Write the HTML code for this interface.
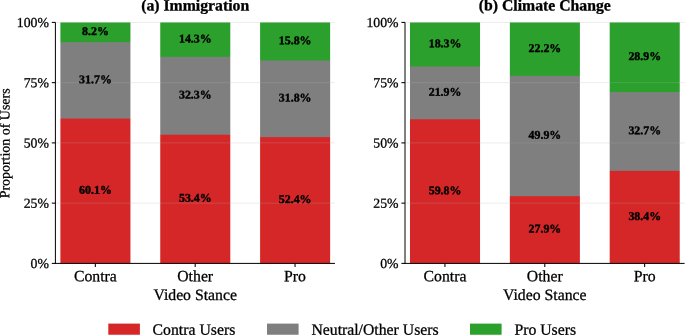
<!DOCTYPE html>
<html><head><meta charset="utf-8"><title>chart</title>
<style>
html,body{margin:0;padding:0;background:#fff;}
body{width:685px;height:335px;overflow:hidden;}
svg{display:block;font-family:"Liberation Serif",serif;text-rendering:geometricPrecision;will-change:transform;}
text{fill:#000;}
.t{font-size:13.78px;stroke:#000;stroke-width:0.27px;}
.x{font-size:15.75px;stroke:#000;stroke-width:0.27px;}
.b{font-size:11.9px;font-weight:bold;stroke:#000;stroke-width:0.4px;}
.ti{font-size:15.75px;font-weight:bold;stroke:#000;stroke-width:0.3px;}
</style></head><body>
<svg width="685" height="335" viewBox="0 0 685 335">
<rect width="685" height="335" fill="#fff"/>
<g>
<linearGradient id="g0" gradientUnits="userSpaceOnUse" x1="0" y1="22.4" x2="0" y2="263.4"><stop offset="0" stop-color="#2ca02c"/><stop offset="7.993%" stop-color="#2ca02c"/><stop offset="8.407%" stop-color="#7f7f7f"/><stop offset="39.693%" stop-color="#7f7f7f"/><stop offset="40.107%" stop-color="#d62728"/><stop offset="1" stop-color="#d62728"/></linearGradient>
<rect x="60.392" y="22.4" width="70.045" height="241" fill="url(#g0)"/>
<linearGradient id="g1" gradientUnits="userSpaceOnUse" x1="0" y1="22.4" x2="0" y2="263.4"><stop offset="0" stop-color="#2ca02c"/><stop offset="14.093%" stop-color="#2ca02c"/><stop offset="14.507%" stop-color="#7f7f7f"/><stop offset="46.393%" stop-color="#7f7f7f"/><stop offset="46.807%" stop-color="#d62728"/><stop offset="1" stop-color="#d62728"/></linearGradient>
<rect x="160.243" y="22.4" width="70.045" height="241" fill="url(#g1)"/>
<linearGradient id="g2" gradientUnits="userSpaceOnUse" x1="0" y1="22.4" x2="0" y2="263.4"><stop offset="0" stop-color="#2ca02c"/><stop offset="15.593%" stop-color="#2ca02c"/><stop offset="16.007%" stop-color="#7f7f7f"/><stop offset="47.393%" stop-color="#7f7f7f"/><stop offset="47.807%" stop-color="#d62728"/><stop offset="1" stop-color="#d62728"/></linearGradient>
<rect x="260.092" y="22.4" width="70.045" height="241" fill="url(#g2)"/>
<line x1="55.4" x2="334.98" y1="203.15" y2="203.15" stroke="#b0b0b0" stroke-opacity="0.3" stroke-width="0.8"/>
<line x1="55.4" x2="334.98" y1="142.9" y2="142.9" stroke="#b0b0b0" stroke-opacity="0.3" stroke-width="0.8"/>
<line x1="55.4" x2="334.98" y1="82.65" y2="82.65" stroke="#b0b0b0" stroke-opacity="0.3" stroke-width="0.8"/>
<line x1="55.4" x2="334.98" y1="22.4" y2="22.4" stroke="#b0b0b0" stroke-opacity="0.3" stroke-width="0.8"/>
<text class="b" x="95.44" y="193.779" text-anchor="middle" transform="rotate(0.03 95.44 193.779)">60.1%</text>
<text class="b" x="95.44" y="83.161" text-anchor="middle" transform="rotate(0.03 95.44 83.161)">31.7%</text>
<text class="b" x="95.44" y="35.081" text-anchor="middle" transform="rotate(0.03 95.44 35.081)">8.2%</text>
<text class="b" x="195.29" y="201.853" text-anchor="middle" transform="rotate(0.03 195.29 201.853)">53.4%</text>
<text class="b" x="195.29" y="98.585" text-anchor="middle" transform="rotate(0.03 195.29 98.585)">32.3%</text>
<text class="b" x="195.29" y="42.432" text-anchor="middle" transform="rotate(0.03 195.29 42.432)">14.3%</text>
<text class="b" x="295.14" y="203.058" text-anchor="middle" transform="rotate(0.03 295.14 203.058)">52.4%</text>
<text class="b" x="295.14" y="101.597" text-anchor="middle" transform="rotate(0.03 295.14 101.597)">31.8%</text>
<text class="b" x="295.14" y="44.239" text-anchor="middle" transform="rotate(0.03 295.14 44.239)">15.8%</text>
<line x1="55.4" x2="55.4" y1="22.4" y2="263.9" stroke="#000" stroke-width="1"/>
<line x1="54.95" x2="334.98" y1="263.4" y2="263.4" stroke="#000" stroke-width="1"/>
<line x1="51.8" x2="55.4" y1="263.4" y2="263.4" stroke="#000" stroke-width="1.05"/>
<text class="t" x="48.9" y="268.05" text-anchor="end" transform="rotate(0.03 48.9 268.05)">0%</text>
<line x1="51.8" x2="55.4" y1="203.15" y2="203.15" stroke="#000" stroke-width="1.05"/>
<text class="t" x="48.9" y="207.8" text-anchor="end" transform="rotate(0.03 48.9 207.8)">25%</text>
<line x1="51.8" x2="55.4" y1="142.9" y2="142.9" stroke="#000" stroke-width="1.05"/>
<text class="t" x="48.9" y="147.55" text-anchor="end" transform="rotate(0.03 48.9 147.55)">50%</text>
<line x1="51.8" x2="55.4" y1="82.65" y2="82.65" stroke="#000" stroke-width="1.05"/>
<text class="t" x="48.9" y="87.3" text-anchor="end" transform="rotate(0.03 48.9 87.3)">75%</text>
<line x1="51.8" x2="55.4" y1="22.4" y2="22.4" stroke="#000" stroke-width="1.05"/>
<text class="t" x="48.9" y="27.05" text-anchor="end" transform="rotate(0.03 48.9 27.05)">100%</text>
<line x1="95.34" x2="95.34" y1="263.4" y2="267.1" stroke="#000" stroke-width="1.05"/>
<text class="x" x="95.34" y="281.15" text-anchor="middle" transform="rotate(0.03 95.34 281.15)">Contra</text>
<line x1="195.19" x2="195.19" y1="263.4" y2="267.1" stroke="#000" stroke-width="1.05"/>
<text class="x" x="195.19" y="281.15" text-anchor="middle" transform="rotate(0.03 195.19 281.15)">Other</text>
<line x1="295.04" x2="295.04" y1="263.4" y2="267.1" stroke="#000" stroke-width="1.05"/>
<text class="x" x="295.04" y="281.15" text-anchor="middle" transform="rotate(0.03 295.04 281.15)">Pro</text>
<text class="x" x="195.19" y="299.9" text-anchor="middle" transform="rotate(0.03 195.19 299.9)">Video Stance</text>
<text class="ti" x="195.19" y="10.4" text-anchor="middle" transform="rotate(0.03 195.19 10.4)">(a) Immigration</text>
<text class="t" style="font-size:13.95px" transform="translate(9.4,143.4) rotate(-89.97)" text-anchor="middle">Proportion of Users</text>
</g>
<g>
<linearGradient id="g3" gradientUnits="userSpaceOnUse" x1="0" y1="22.4" x2="0" y2="263.4"><stop offset="0" stop-color="#2ca02c"/><stop offset="18.093%" stop-color="#2ca02c"/><stop offset="18.507%" stop-color="#7f7f7f"/><stop offset="39.993%" stop-color="#7f7f7f"/><stop offset="40.407%" stop-color="#d62728"/><stop offset="1" stop-color="#d62728"/></linearGradient>
<rect x="409.993" y="22.4" width="70.045" height="241" fill="url(#g3)"/>
<linearGradient id="g4" gradientUnits="userSpaceOnUse" x1="0" y1="22.4" x2="0" y2="263.4"><stop offset="0" stop-color="#2ca02c"/><stop offset="21.993%" stop-color="#2ca02c"/><stop offset="22.407%" stop-color="#7f7f7f"/><stop offset="71.893%" stop-color="#7f7f7f"/><stop offset="72.307%" stop-color="#d62728"/><stop offset="1" stop-color="#d62728"/></linearGradient>
<rect x="509.842" y="22.4" width="70.045" height="241" fill="url(#g4)"/>
<linearGradient id="g5" gradientUnits="userSpaceOnUse" x1="0" y1="22.4" x2="0" y2="263.4"><stop offset="0" stop-color="#2ca02c"/><stop offset="28.693%" stop-color="#2ca02c"/><stop offset="29.107%" stop-color="#7f7f7f"/><stop offset="61.393%" stop-color="#7f7f7f"/><stop offset="61.807%" stop-color="#d62728"/><stop offset="1" stop-color="#d62728"/></linearGradient>
<rect x="609.692" y="22.4" width="70.045" height="241" fill="url(#g5)"/>
<line x1="405" x2="684.58" y1="203.15" y2="203.15" stroke="#b0b0b0" stroke-opacity="0.3" stroke-width="0.8"/>
<line x1="405" x2="684.58" y1="142.9" y2="142.9" stroke="#b0b0b0" stroke-opacity="0.3" stroke-width="0.8"/>
<line x1="405" x2="684.58" y1="82.65" y2="82.65" stroke="#b0b0b0" stroke-opacity="0.3" stroke-width="0.8"/>
<line x1="405" x2="684.58" y1="22.4" y2="22.4" stroke="#b0b0b0" stroke-opacity="0.3" stroke-width="0.8"/>
<text class="b" x="445.04" y="194.141" text-anchor="middle" transform="rotate(0.03 445.04 194.141)">59.8%</text>
<text class="b" x="445.04" y="95.693" text-anchor="middle" transform="rotate(0.03 445.04 95.693)">21.9%</text>
<text class="b" x="445.04" y="47.252" text-anchor="middle" transform="rotate(0.03 445.04 47.252)">18.3%</text>
<text class="b" x="544.89" y="232.581" text-anchor="middle" transform="rotate(0.03 544.89 232.581)">27.9%</text>
<text class="b" x="544.89" y="138.832" text-anchor="middle" transform="rotate(0.03 544.89 138.832)">49.9%</text>
<text class="b" x="544.89" y="51.951" text-anchor="middle" transform="rotate(0.03 544.89 51.951)">22.2%</text>
<text class="b" x="644.74" y="219.928" text-anchor="middle" transform="rotate(0.03 644.74 219.928)">38.4%</text>
<text class="b" x="644.74" y="134.253" text-anchor="middle" transform="rotate(0.03 644.74 134.253)">32.7%</text>
<text class="b" x="644.74" y="60.025" text-anchor="middle" transform="rotate(0.03 644.74 60.025)">28.9%</text>
<line x1="405" x2="405" y1="22.4" y2="263.9" stroke="#000" stroke-width="1"/>
<line x1="404.55" x2="684.58" y1="263.4" y2="263.4" stroke="#000" stroke-width="1"/>
<line x1="401.4" x2="405" y1="263.4" y2="263.4" stroke="#000" stroke-width="1.05"/>
<text class="t" x="398.5" y="268.05" text-anchor="end" transform="rotate(0.03 398.5 268.05)">0%</text>
<line x1="401.4" x2="405" y1="203.15" y2="203.15" stroke="#000" stroke-width="1.05"/>
<text class="t" x="398.5" y="207.8" text-anchor="end" transform="rotate(0.03 398.5 207.8)">25%</text>
<line x1="401.4" x2="405" y1="142.9" y2="142.9" stroke="#000" stroke-width="1.05"/>
<text class="t" x="398.5" y="147.55" text-anchor="end" transform="rotate(0.03 398.5 147.55)">50%</text>
<line x1="401.4" x2="405" y1="82.65" y2="82.65" stroke="#000" stroke-width="1.05"/>
<text class="t" x="398.5" y="87.3" text-anchor="end" transform="rotate(0.03 398.5 87.3)">75%</text>
<line x1="401.4" x2="405" y1="22.4" y2="22.4" stroke="#000" stroke-width="1.05"/>
<text class="t" x="398.5" y="27.05" text-anchor="end" transform="rotate(0.03 398.5 27.05)">100%</text>
<line x1="444.94" x2="444.94" y1="263.4" y2="267.1" stroke="#000" stroke-width="1.05"/>
<text class="x" x="444.94" y="281.15" text-anchor="middle" transform="rotate(0.03 444.94 281.15)">Contra</text>
<line x1="544.79" x2="544.79" y1="263.4" y2="267.1" stroke="#000" stroke-width="1.05"/>
<text class="x" x="544.79" y="281.15" text-anchor="middle" transform="rotate(0.03 544.79 281.15)">Other</text>
<line x1="644.64" x2="644.64" y1="263.4" y2="267.1" stroke="#000" stroke-width="1.05"/>
<text class="x" x="644.64" y="281.15" text-anchor="middle" transform="rotate(0.03 644.64 281.15)">Pro</text>
<text class="x" x="544.79" y="299.9" text-anchor="middle" transform="rotate(0.03 544.79 299.9)">Video Stance</text>
<text class="ti" x="544.79" y="10.4" text-anchor="middle" transform="rotate(0.03 544.79 10.4)">(b) Climate Change</text>
</g>
<g>
<rect x="108.3" y="323.6" width="31.6" height="11.15" fill="#d62728"/>
<text class="x" x="152.6" y="334.8" transform="rotate(0.03 152.6 334.8)">Contra Users</text>
<rect x="267.0" y="323.6" width="31.6" height="11.15" fill="#7f7f7f"/>
<text class="x" x="311.4" y="334.8" transform="rotate(0.03 311.4 334.8)">Neutral/Other Users</text>
<rect x="470.0" y="323.6" width="31.6" height="11.15" fill="#2ca02c"/>
<text class="x" x="514.4" y="334.8" transform="rotate(0.03 514.4 334.8)">Pro Users</text>
</g>
</svg></body></html>
